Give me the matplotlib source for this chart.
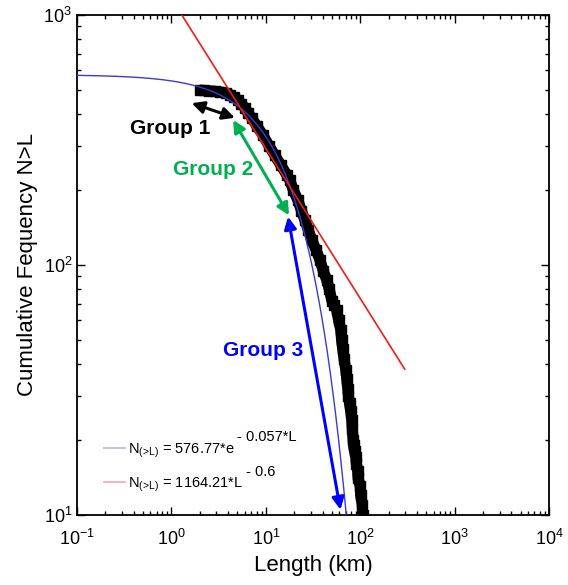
import matplotlib
matplotlib.use("Agg")
import matplotlib.pyplot as plt
import matplotlib.transforms as mtransforms
import numpy as np

plt.rcParams['font.family'] = ['Liberation Sans', 'DejaVu Sans']
plt.rcParams['mathtext.default'] = 'regular'

# cumulative counts N>L
lengths = [2.0, 2.2, 2.5, 2.9, 3.3, 3.8, 4.2, 4.6, 5.06, 5.5, 6.0, 6.5, 7.1,
           8.0, 9.3, 10.8, 12.4, 14.5, 16.7, 17.9, 19.5, 21.8, 23.8, 25.9,
           28.2, 30.7, 34.0, 37.3, 40.5, 44.2, 47.0, 50.0, 53.0, 56.4, 59.0,
           62.2, 63.5, 65.3, 67.5, 70.3, 72.0, 73.8, 75.0, 77.0, 79.3, 81.3,
           82.5, 84.0, 85.0, 87.0, 90.0, 91.0, 94.0, 95.0, 100.0, 101.0,
           105.0, 106.0]
counts = [500, 499, 497, 495, 492, 488, 480, 470, 457, 440, 425, 405, 387,
          360, 331, 300, 275, 250, 229, 219, 200, 182, 165, 151,
          138, 126, 115, 105, 95, 87, 80, 72, 69, 66, 60,
          55, 50, 46, 42, 38, 35, 32, 30, 28, 26, 24,
          22, 20, 19, 18, 17, 16, 15, 14, 13, 12,
          11, 10]

# fitted models from the legend
exp_a, exp_b = 576.77, -0.057
pow_a, pow_b = 1164.21, -0.6
fit_labels = [r'N$_{(\!>\!L)}$ = 576.77*e', r'N$_{(\!>\!L)}$ = 1164.21*L']
fit_powers = ['- 0.057*L', '- 0.6']

# group arrows (start L, start N, end L, end N) and labels
group_names = ["Group 1", "Group 2", "Group 3"]
group_colors = ["black", "#00b050", "#0000ff"]
group_arrows = [(1.64, 444, 4.70, 388),
                (4.51, 380, 17.6, 158),
                (17.2, 156, 61.7, 10.5)]
group_text = [(0.96, 353), (2.75, 240), (9.3, 45.3)]


def main():
    fig = plt.figure(figsize=(5.68, 5.85), dpi=100)
    ax = fig.add_axes([0.1356, 0.1197, 0.831, 0.8547])

    # thick band behind the square markers, as in the original
    ax.plot(lengths, counts, '-', color='black', lw=8, zorder=2,
            solid_joinstyle='round', solid_capstyle='butt')
    ax.plot(lengths, counts, 's', color='black', markersize=6.5, zorder=2)

    l_exp = np.logspace(-1, np.log10(75), 300)
    ax.plot(l_exp, exp_a * np.exp(exp_b * l_exp), color='#3a3ad6', lw=1.0,
            zorder=3)
    l_pow = np.logspace(0, np.log10(296), 100)
    ax.plot(l_pow, pow_a * l_pow ** pow_b, color='#ee1c1c', lw=1.2,
            zorder=3)

    # legend with faint handles
    h1, = ax.plot([], [], color='#b4b4ec', lw=1.2, label=fit_labels[0])
    h2, = ax.plot([], [], color='#f2a8a8', lw=1.2, label=fit_labels[1])

    for name, col, arr, pos in zip(group_names, group_colors, group_arrows, group_text):
        ax.annotate('', xy=(arr[2], arr[3]), xytext=(arr[0], arr[1]),
                    arrowprops=dict(arrowstyle='<|-|>', color=col, lw=2.2,
                                    mutation_scale=18, shrinkA=0, shrinkB=0),
                    zorder=4)
        ax.text(pos[0], pos[1], name, color=col, fontsize=15, fontweight='bold',
                ha='center', va='center', zorder=5)

    ax.set_xscale('log')
    ax.set_yscale('log')
    ax.set_xlim(1e-1, 1e4)
    ax.set_ylim(1e1, 1e3)
    ax.set_xlabel('Length (km)', fontsize=16, labelpad=4)
    ax.set_ylabel('Cumulative Fequency N>L', fontsize=16)
    ax.tick_params(which='both', direction='in', top=True, right=True,
                   labelsize=13)
    ax.tick_params(axis='x', which='major', pad=10)
    ax.tick_params(which='major', length=6, width=1)
    ax.tick_params(which='minor', length=3, width=1)
    for s in ax.spines.values():
        s.set_linewidth(1.3)

    leg = ax.legend(handles=[h1, h2], loc='lower left',
                    bbox_to_anchor=(0.03, 0.016), frameon=False,
                    fontsize=10.5, handlelength=1.4, handletextpad=0.2,
                    labelspacing=1.1)

    # full size raised exponents next to each legend entry
    fig.canvas.draw()
    for txt, power in zip(leg.get_texts(), fit_powers):
        bb = txt.get_window_extent()
        fig.text(bb.x1 + 3, bb.y1 - 3, power, fontsize=10.5,
                 transform=mtransforms.IdentityTransform(),
                 ha='left', va='bottom')

    fig.savefig('out.png', dpi=100)


if __name__ == "__main__":
    main()
